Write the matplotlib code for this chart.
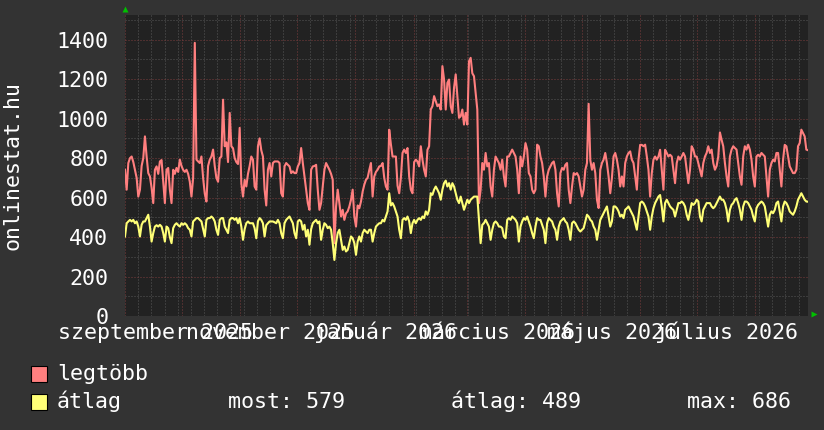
import numpy as np
import pandas as pd
import matplotlib
matplotlib.use("Agg")
import matplotlib.pyplot as plt
import matplotlib.dates as mdates
from matplotlib.ticker import MultipleLocator, NullFormatter
from matplotlib.transforms import blended_transform_factory
from matplotlib.patches import Rectangle

# ---------------- data ----------------
legtobb_1 = [741, 640, 775, 800, 808, 780, 741, 700, 605, 640, 760, 800, 910, 808, 724, 707, 650, 572, 741, 758,
             720, 783, 790, 680, 572, 741, 750, 640, 572, 741, 720, 750, 730, 792, 760, 740, 730, 741, 720, 680,
             605, 700, 1384, 792, 783, 775, 808, 700, 620, 580, 760, 792, 808, 843, 760, 700, 680]
legtobb_2 = [800, 808, 1096, 860, 880, 780, 1029, 860, 850, 800, 780, 770, 953, 673, 605, 690, 656, 720, 760, 808,
             792, 656, 640, 860, 900, 840, 808, 640, 560, 741, 775, 707, 775, 783, 783, 783, 775, 622, 605, 758,
             775, 766, 758, 724, 733, 724, 724, 758, 775, 851, 775, 707, 640, 572, 538, 741, 758, 760, 766]
legtobb_3 = [640, 538, 572, 656, 741, 775, 758, 741, 720, 690, 369, 555, 640, 572, 504, 538, 487, 520, 530, 555,
             589, 640, 504, 453, 560, 546, 580, 630, 665, 690, 700, 740, 775, 605, 707, 730, 741, 758, 760, 775,
             700, 656, 640, 944, 870, 808, 808, 808, 660, 622, 700, 826, 843, 826, 851, 707, 640, 622, 780]
legtobb_4 = [792, 783, 758, 860, 792, 741, 707, 842, 860, 1046, 1063, 1114, 1089, 1063, 1072, 1046, 1266, 1198, 1046, 1181,
             1198, 1063, 1029, 1156, 1224, 1114, 1004, 1012, 1046, 970, 1029, 970, 1290, 1308, 1230, 1215, 1131, 1046, 572, 640,
             775, 741, 826, 758, 775, 656, 605, 741, 808, 792, 775, 741, 792, 707, 656, 808, 808, 826, 843]
legtobb_5 = [826, 808, 741, 622, 808, 758, 808, 876, 843, 724, 707, 640, 622, 640, 868, 860, 808, 775, 707, 605,
             707, 741, 758, 775, 783, 741, 622, 555, 724, 750, 741, 766, 775, 640, 572, 656, 724, 716, 724, 707,
             656, 605, 640, 741, 775, 1075, 790, 741, 775, 724, 589, 547, 741, 775, 792, 826, 775, 707, 622]
legtobb_6 = [700, 808, 826, 792, 741, 656, 707, 656, 775, 808, 826, 834, 792, 775, 707, 640, 792, 867, 867, 860,
             868, 808, 741, 605, 724, 792, 808, 792, 808, 842, 741, 640, 842, 826, 808, 817, 808, 741, 673, 775,
             808, 792, 808, 826, 808, 741, 673, 741, 860, 843, 808, 808, 775, 741, 707, 775, 808, 826, 860]
legtobb_7 = [826, 843, 775, 741, 760, 808, 930, 893, 860, 775, 707, 656, 808, 843, 860, 851, 843, 775, 707, 665,
             808, 860, 843, 868, 843, 792, 707, 656, 808, 817, 808, 826, 817, 808, 707, 605, 741, 775, 792, 783,
             826, 826, 741, 656, 792, 867, 860, 808, 758, 741, 724, 724, 741, 860, 876, 944, 927, 910, 843, 840]

atlag_1 = [403, 470, 479, 487, 479, 487, 470, 479, 453, 403, 462, 479, 479, 496, 513, 453, 377, 420, 453, 460,
           453, 462, 453, 420, 377, 453, 445, 400, 369, 445, 462, 470, 460, 453, 470, 462, 470, 462, 445, 437,
           403, 479, 487, 496, 496, 487, 479, 440, 403, 487, 496, 496, 504, 496, 479, 437, 411]
atlag_2 = [487, 496, 496, 453, 437, 420, 487, 496, 496, 487, 496, 470, 496, 453, 386, 440, 470, 479, 470, 470,
           470, 445, 394, 480, 496, 487, 470, 403, 460, 470, 479, 479, 479, 475, 470, 487, 470, 420, 394, 470,
           487, 496, 504, 487, 470, 420, 394, 479, 487, 479, 437, 462, 403, 437, 361, 440, 470, 479, 487]
atlag_3 = [470, 479, 386, 437, 470, 462, 445, 453, 437, 369, 284, 369, 420, 437, 386, 335, 352, 327, 335, 369,
           403, 394, 369, 310, 377, 403, 377, 420, 437, 428, 420, 437, 437, 377, 420, 453, 462, 470, 470, 487,
           479, 504, 530, 622, 560, 572, 555, 530, 504, 437, 394, 487, 496, 487, 504, 480, 420, 470, 487]
atlag_4 = [470, 487, 496, 487, 504, 496, 530, 513, 538, 622, 614, 640, 656, 640, 622, 589, 640, 673, 686, 656,
           673, 640, 673, 656, 622, 589, 572, 605, 572, 538, 563, 589, 572, 589, 597, 605, 605, 605, 487, 369,
           462, 470, 487, 470, 453, 386, 437, 470, 479, 470, 453, 453, 445, 403, 394, 487, 496, 487, 504]
atlag_5 = [496, 487, 470, 377, 453, 479, 496, 487, 504, 479, 453, 420, 394, 453, 496, 487, 487, 462, 437, 369,
           470, 496, 487, 479, 453, 437, 386, 453, 479, 487, 496, 479, 470, 437, 386, 470, 479, 470, 453, 437,
           428, 437, 445, 479, 513, 504, 487, 479, 453, 437, 386, 437, 487, 504, 521, 538, 555, 504, 453]
atlag_6 = [479, 555, 555, 546, 530, 504, 513, 496, 538, 546, 555, 538, 521, 504, 470, 437, 504, 572, 580, 572,
           555, 530, 504, 437, 504, 546, 572, 589, 605, 613, 555, 479, 572, 589, 572, 555, 546, 538, 504, 538,
           572, 572, 580, 572, 555, 513, 487, 530, 572, 563, 572, 589, 580, 504, 479, 538, 555, 572, 572]
atlag_7 = [572, 555, 546, 555, 572, 589, 605, 589, 589, 572, 538, 479, 538, 563, 572, 589, 597, 572, 538, 487,
           555, 580, 580, 572, 555, 538, 504, 479, 546, 563, 572, 580, 572, 555, 504, 453, 513, 530, 521, 538,
           572, 580, 530, 479, 555, 580, 572, 555, 530, 521, 513, 530, 555, 589, 605, 622, 605, 589, 580, 579]

legtobb = legtobb_1 + legtobb_2 + legtobb_3 + legtobb_4 + legtobb_5 + legtobb_6 + legtobb_7
atlag = atlag_1 + atlag_2 + atlag_3 + atlag_4 + atlag_5 + atlag_6 + atlag_7

start_date = "2025-09-01"
end_date = "2026-08-29"
month_labels = ["szeptember 2025", "november 2025", "január 2026",
                "március 2026", "május 2026", "július 2026"]
month_label_dates = ["2025-09-17", "2025-11-17", "2026-01-17",
                     "2026-03-17", "2026-05-17", "2026-07-17"]
series_names = ["legtöbb", "átlag"]
stats_text = ["most: 579", "átlag: 489", "max: 686"]
y_axis_label = "onlinestat.hu"

# ---------------- style ----------------
BG = "#333333"
PLOT_BG = "#222222"
RED = "#ff7f7f"
YEL = "#ffff77"
FONT = "DejaVu Sans Mono"
FS = 15.6
plt.rcParams["font.family"] = [FONT, "DejaVu Sans"]

dates = pd.date_range(start_date, end_date, periods=len(legtobb))

W, H = 824, 430
fig = plt.figure(figsize=(W / 100, H / 100), dpi=100, facecolor=BG)
ax = fig.add_axes([125 / W, (H - 316) / H, 683 / W, 301 / H], facecolor=PLOT_BG)

ax.plot(dates, legtobb, color=RED, lw=1.5, zorder=3)
ax.plot(dates, atlag, color=YEL, lw=1.5, zorder=4)

ax.set_xlim(pd.Timestamp(start_date), pd.Timestamp(end_date))
ax.set_ylim(0, 1525)

ax.yaxis.set_major_locator(MultipleLocator(200))
ax.yaxis.set_minor_locator(MultipleLocator(100))
ax.xaxis.set_major_locator(mdates.MonthLocator())
ax.xaxis.set_minor_locator(mdates.WeekdayLocator(byweekday=mdates.MO))
ax.xaxis.set_major_formatter(NullFormatter())
ax.xaxis.set_minor_formatter(NullFormatter())

dash = (0, (1, 2))
ax.grid(which="minor", color="#575757", linestyle=dash, linewidth=0.72)
ax.grid(which="major", color="#7a3c3c", linestyle=dash, linewidth=0.72)
ax.set_axisbelow(True)

ax.tick_params(axis="both", which="both", length=0)
ax.tick_params(axis="y", labelcolor="white", labelsize=FS, pad=12)
for lab in ax.get_yticklabels():
    lab.set_fontfamily(FONT)
for s in ax.spines.values():
    s.set_visible(False)

# month labels
tr = blended_transform_factory(ax.transData, fig.transFigure)
for d, t in zip(month_label_dates, month_labels):
    ax.text(pd.Timestamp(d), (H - 339) / H, t, transform=tr, ha="center", va="baseline",
            color="white", fontsize=FS, fontfamily=FONT, clip_on=False)

# arrows
ax.plot([0], [1 + 6 / 301], marker="^", ms=5, color="#00c000", transform=ax.transAxes,
        clip_on=False, mec="none")
ax.plot([1 + 6 / 683], [0.005], marker=">", ms=5, color="#00c000", transform=ax.transAxes,
        clip_on=False, mec="none")

# y label
fig.text(13 / W, 1 - 165 / H, y_axis_label, rotation=90, ha="center", va="center",
         color="white", fontsize=FS, fontfamily=FONT)

# legend
fig.add_artist(Rectangle((31 / W, (H - 382) / H), 16 / W, 16 / H, transform=fig.transFigure,
                         facecolor=RED, edgecolor="black", lw=0.8))
fig.add_artist(Rectangle((31 / W, (H - 410) / H), 16 / W, 16 / H, transform=fig.transFigure,
                         facecolor=YEL, edgecolor="black", lw=0.8))
fig.text(57 / W, (H - 380) / H, series_names[0], color="white", fontsize=FS, fontfamily=FONT, va="baseline")
fig.text(57 / W, (H - 408) / H, series_names[1], color="white", fontsize=FS, fontfamily=FONT, va="baseline")
for xp, t in zip([228, 451, 687], stats_text):
    fig.text(xp / W, (H - 408) / H, t, color="white", fontsize=FS, fontfamily=FONT, va="baseline")

fig.savefig("out.png", dpi=100, facecolor=BG)
